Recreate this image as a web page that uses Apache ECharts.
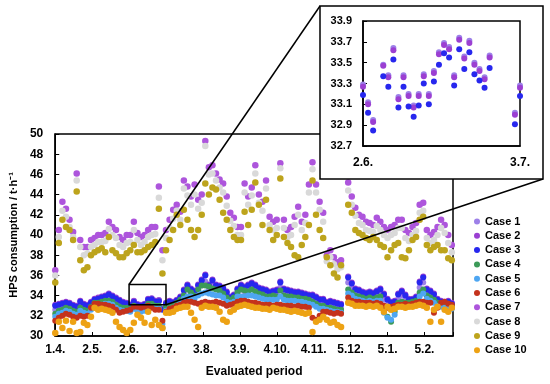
<!DOCTYPE html>
<html><head><meta charset="utf-8">
<script src="https://cdn.jsdelivr.net/npm/echarts@6/dist/echarts.min.js"></script>
<style>html,body{margin:0;padding:0;background:#fff}#c{width:550px;height:384px}</style>
</head><body><div id="c"></div>
<script>
// ---- data ----
const xLabels = ['1.4.','2.5.','2.6.','3.7.','3.8.','3.9.','4.10.','4.11.','5.12.','5.1.','5.2.'];
const days = [
0,3,6,9,12,15,18,21,24,27,
30,33,36,39,42,45,48,51,54,57,
60,63,66,69,72,75,78,81,84,87,
90,93,96,99,102,105,108,111,114,117,
120,123,126,129,132,135,138,141,144,147,
150,153,156,159,162,165,168,171,174,177,
180,183,186,189,192,195,198,201,204,207,
210,213,216,219,222,225,228,231,234,237,
240,243,246,249,252,255,258,261,264,267,
270,273,276,279,282,285,288,291,294,297,
300,303,306,309,312,315,318,321,324,327,
330,333];
const case1 = [
32.6,32.8,32.8,32.9,32.8,32.6,32.4,32.9,32.7,32.6,
33.0,33.3,33.4,33.4,33.5,33.7,33.5,33.3,33.1,32.9,
32.9,33.12,33.48,33.17,33.09,33.20,33.69,33.74,33.50,33.57,
32.7,33.28,33.1,33.0,33.2,33.4,34.1,34.6,34.2,34.0,
34.6,35.0,35.4,34.6,35.0,34.6,34.5,34.3,33.9,33.5,
33.6,34.2,34.6,34.4,34.5,34.7,34.5,34.3,34.2,34.1,
33.9,34.0,34.1,34.8,34.2,34.1,34.0,33.9,33.9,33.8,
33.7,33.6,33.5,33.4,33.2,33.2,32.9,33.0,32.9,32.8,
32.7,null,35.3,34.8,34.2,34.1,33.9,33.8,33.9,33.8,
34.0,34.1,33.6,33.1,32.9,33.0,33.7,34.0,33.6,33.2,
33.2,33.4,34.8,35.3,34.2,34.0,33.7,33.2,33.0,32.9,
33.0,32.8];
const case2 = [
33.1,33.2,33.3,33.4,33.3,33.1,33.0,33.5,33.2,33.1,
33.4,33.7,33.8,33.9,34.0,34.2,34.0,33.8,33.6,33.4,
33.3,33.10,33.47,33.15,33.07,33.18,33.67,33.72,33.48,33.55,
32.7,33.26,33.5,33.4,33.6,33.9,34.6,35.1,34.7,34.5,
35.1,35.6,36.1,35.1,35.6,35.1,35.0,34.8,34.4,33.9,
34.1,34.7,35.1,34.9,35.1,35.3,35.1,34.8,34.7,34.6,
34.4,34.5,34.6,35.4,34.7,34.6,34.5,34.4,34.4,34.3,
34.2,34.1,34.1,33.9,33.7,33.7,33.4,33.5,33.4,33.3,
33.2,null,35.9,35.3,34.7,34.6,34.4,34.3,34.4,34.3,
34.5,34.7,34.2,33.7,33.4,33.5,34.2,34.5,34.1,33.7,
33.7,33.9,35.4,35.9,34.7,34.5,34.2,33.7,33.5,33.4,
33.5,33.3];
const case3 = [
33.0,33.1,33.2,33.3,33.2,33.0,32.9,33.4,33.1,33.0,
33.3,33.6,33.7,33.8,33.9,34.1,33.9,33.7,33.5,33.3,
33.2,33.02,33.37,33.07,32.98,33.10,33.59,33.63,33.39,33.45,
32.6,33.18,33.4,33.3,33.5,33.8,34.5,35.0,34.6,34.4,
35.0,35.5,36.0,35.0,35.5,35.0,34.9,34.7,34.3,33.8,
34.0,34.6,35.0,34.8,35.0,35.2,35.0,34.7,34.6,34.5,
34.3,34.4,34.5,35.3,34.6,34.5,34.4,34.3,34.3,34.2,
34.1,34.0,34.0,33.8,33.6,33.6,33.3,33.4,33.3,33.2,
33.1,null,35.8,35.2,34.6,34.5,34.3,34.2,34.3,34.2,
34.4,34.6,34.1,33.6,33.3,33.4,34.1,34.4,34.0,33.6,
33.6,33.8,35.3,35.8,34.6,34.4,34.1,33.6,33.4,33.3,
33.4,33.2];
const case4 = [
32.2,32.5,32.6,32.8,32.7,32.5,32.4,32.8,32.6,32.5,
32.9,33.3,33.3,33.4,33.5,33.5,33.4,33.1,32.9,32.8,
32.8,32.7,33.0,32.8,32.7,32.8,33.2,33.2,33.0,33.0,
30.8,32.8,33.0,33.1,33.3,33.6,34.0,34.6,34.3,34.0,
34.6,35.0,35.0,34.9,34.7,34.6,34.5,34.2,33.8,33.6,
33.8,34.3,34.6,34.5,34.4,34.6,34.4,34.2,34.1,33.9,
33.9,34.0,33.9,34.5,34.0,33.9,33.9,33.8,33.8,33.7,
33.7,33.6,33.4,33.2,33.0,33.0,32.8,32.8,32.7,32.6,
32.6,null,34.6,34.3,34.0,33.9,33.8,33.7,33.8,33.7,
33.8,33.9,32.6,31.9,31.4,32.4,33.3,33.4,33.3,33.3,
33.4,33.5,34.3,34.6,34.0,33.8,33.6,33.3,33.2,33.1,
33.2,33.0];
const case5 = [
31.9,32.2,32.3,32.5,32.4,32.2,32.1,32.5,32.3,32.2,
32.6,33.0,33.0,33.1,33.2,33.2,33.1,32.8,32.6,32.5,
32.5,32.4,32.7,32.5,32.4,32.5,32.9,32.9,32.7,32.7,
31.2,32.5,32.7,32.8,33.0,33.3,33.7,33.9,33.9,33.7,
34.0,34.2,34.3,34.2,34.1,34.0,34.0,33.8,33.4,33.3,
33.4,33.9,33.9,33.9,34.0,34.0,33.9,33.8,33.7,33.6,
33.6,33.6,33.6,33.9,33.6,33.5,33.5,33.5,33.4,33.4,
33.3,33.2,33.1,32.9,32.7,32.7,32.6,32.5,32.4,32.4,
32.3,null,34.2,34.0,33.7,33.6,33.5,33.4,33.5,33.4,
33.5,33.5,32.3,31.8,31.6,32.1,33.0,33.1,33.0,33.0,
33.1,33.2,33.9,34.2,33.7,33.5,33.3,33.0,32.9,32.8,
32.9,32.7];
const case6 = [
31.5,31.8,32.0,32.2,32.1,31.9,31.8,32.0,31.9,32.0,
32.8,33.2,33.2,33.1,33.1,33.0,32.9,32.6,32.3,32.4,
32.5,32.6,32.9,32.9,32.8,32.9,33.0,32.8,32.6,32.6,
31.5,32.4,32.7,32.8,33.0,33.1,33.3,33.4,33.4,33.3,
33.2,33.3,33.4,33.3,33.3,33.4,33.3,33.2,33.0,33.1,
33.2,33.4,33.5,33.5,33.4,33.3,33.3,33.2,33.1,33.1,
33.1,33.0,33.1,33.1,33.0,33.0,33.0,32.9,33.0,32.9,
32.9,32.8,31.8,31.6,32.0,32.4,32.4,32.3,32.2,32.3,
32.2,null,33.8,33.5,33.4,33.4,33.3,33.3,33.3,33.2,
33.3,33.2,33.0,32.8,32.9,33.0,33.1,33.1,33.2,33.1,
33.2,33.3,33.4,33.4,33.3,33.3,32.3,32.8,33.3,33.4,
33.2,33.1];
const case7 = [
36.5,40.5,43.3,42.6,41.5,40.3,46.1,39.5,38.8,38.8,
39.5,39.7,40.0,40.0,40.2,41.3,40.8,40.5,39.8,39.5,
40.0,40.0,41.3,40.2,39.8,40.0,40.5,40.8,40.8,44.8,
38.5,40.5,41.5,42.5,43.0,42.3,45.4,44.8,43.8,45.0,
43.5,44.0,49.3,46.7,46.9,46.1,45.5,45.1,43.8,42.2,
41.7,40.8,40.8,45.1,43.8,44.7,46.9,44.0,43.3,45.4,
41.8,41.3,41.5,47.1,41.5,40.5,40.8,41.8,42.8,41.3,
42.0,45.0,47.2,45.0,43.3,42.2,38.0,38.5,37.8,37.3,
37.5,null,45.2,43.8,42.7,42.0,41.8,41.3,41.2,41.0,
41.7,41.3,40.8,40.5,40.8,41.0,41.5,41.5,40.5,40.2,
40.8,41.2,43.0,43.2,40.5,40.0,40.3,40.8,41.5,41.0,
40.0,39.0];
const case8 = [
36.0,39.8,42.4,41.8,40.8,39.8,45.4,38.8,38.0,38.2,
38.8,39.0,39.3,39.3,39.4,40.6,40.0,39.7,39.0,38.8,
39.2,39.3,40.5,39.5,39.0,39.3,39.8,40.0,40.1,43.7,
37.5,39.7,40.7,41.6,42.4,41.5,44.6,43.9,43.0,44.0,
42.6,43.2,48.8,46.0,46.1,45.4,44.7,44.2,42.9,41.4,
40.9,40.0,40.0,44.2,43.0,43.9,46.1,43.2,42.4,44.6,
41.0,40.5,40.7,46.6,40.7,39.8,40.0,41.0,42.0,40.5,
41.2,44.2,46.5,44.2,42.5,41.3,37.4,37.8,37.1,36.6,
36.8,null,44.4,43.0,41.9,41.2,41.0,40.5,40.4,40.3,
40.9,40.5,40.0,39.7,40.0,40.2,40.7,40.7,39.7,39.4,
40.0,40.4,42.2,42.4,39.7,39.2,39.5,40.0,40.7,40.2,
39.2,38.3];
const case9 = [
35.3,39.2,41.5,40.8,40.5,39.5,44.3,37.5,36.5,36.8,
38.0,38.3,38.5,38.7,38.3,39.8,38.5,38.2,37.8,37.8,
38.2,38.5,39.0,38.3,38.3,38.5,38.8,39.0,39.3,42.6,
36.2,38.5,39.5,40.5,42.0,41.0,42.5,41.5,40.5,39.8,
40.5,42.0,45.1,44.0,44.7,44.5,43.5,42.2,41.5,40.5,
39.8,39.5,39.5,42.3,41.0,42.5,45.2,43.0,41.0,43.5,
40.5,39.5,40.0,45.6,39.8,39.2,38.8,38.0,37.8,39.0,
39.8,41.0,45.4,42.0,40.5,39.7,37.8,37.0,36.2,35.8,
37.0,null,43.0,42.2,40.5,40.2,40.0,39.7,39.5,39.8,
39.5,39.0,38.8,37.8,38.5,39.0,39.2,37.8,37.7,38.5,
39.5,39.8,41.5,41.8,39.0,38.5,38.8,39.0,38.5,38.5,
37.7,37.5];
const case10 = [
30.3,31.4,30.8,31.5,30.5,31.4,30.3,30.4,31.3,31.1,
31.9,32.8,32.6,32.7,32.6,32.5,32.3,31.4,30.9,30.6,
30.3,30.6,31.3,32.1,31.8,31.3,32.4,31.1,31.6,31.1,
30.8,32.3,32.3,32.4,32.7,32.8,32.9,32.9,32.3,31.6,
30.9,32.8,33.0,32.9,32.9,32.8,32.4,31.6,31.4,32.4,
32.6,32.9,33.0,33.1,33.0,32.9,32.8,32.8,32.7,32.7,
32.6,32.8,32.7,32.6,32.6,32.5,32.4,32.5,32.4,32.3,
32.2,32.3,30.4,31.4,31.6,31.9,31.6,31.3,31.4,31.1,
30.9,null,33.3,33.2,33.0,33.0,33.0,32.9,33.0,32.9,
33.0,32.8,32.4,32.9,32.6,32.7,32.9,32.9,32.8,32.9,
32.9,33.0,33.1,33.0,32.8,31.4,32.6,32.9,31.4,32.6,
32.4,32.8];
// zoomed window (2.6. - 3.7.), daily values
const insetDays  = [62,63,64,66,67,68,69,70,71,72,73,74,75,76,77,78,79,80,81,82,83,84,85,86,87,92,93];
const insetCase1 = [33.29,33.12,32.95,33.48,33.38,33.64,33.17,33.38,33.20,33.09,33.20,33.39,33.20,33.42,33.60,33.69,33.65,33.38,33.74,33.56,33.71,33.50,33.44,33.36,33.57,33.02,33.28];
const insetCase2 = [33.27,33.10,32.93,33.47,33.36,33.62,33.15,33.36,33.18,33.07,33.18,33.37,33.18,33.40,33.58,33.67,33.63,33.36,33.72,33.54,33.69,33.48,33.42,33.34,33.55,33.00,33.26];
const insetCase3 = [33.19,33.02,32.85,33.37,33.27,33.53,33.07,33.27,33.08,32.98,33.09,33.30,33.10,33.32,33.48,33.59,33.55,33.28,33.63,33.44,33.60,33.39,33.33,33.26,33.45,32.91,33.18];
const yTicksMain = {min: 30, max: 50, step: 2};
const yTicksInset = {min: 32.7, max: 33.9, step: 0.2};
const zoomWindow = {x0: 62, x1: 93, y0: 33.1, y1: 35.1};

const seriesNames = ['Case 1','Case 2','Case 3','Case 4','Case 5','Case 6','Case 7','Case 8','Case 9','Case 10'];
const seriesData = [case1,case2,case3,case4,case5,case6,case7,case8,case9,case10];
const colors = ['#9d80e8','#9b3fd2','#2727ee','#3c9a58','#4ea6f2','#c4321c','#ad55dc','#d9d9d9','#bda41c','#eda214'];

// ---- chart ----
const F = '"Liberation Sans", Arial, sans-serif';
const chart = echarts.init(document.getElementById('c'));
const txt = {fontFamily: F, fontWeight: 'bold', fontSize: 11, color: '#000'};
const txt12 = Object.assign({}, txt, {fontSize: 12});
const xFmt = v => { const k = v / 31; return Number.isInteger(k) && xLabels[k] ? xLabels[k] : ''; };
const pts = (xs, ys) => xs.map((x, i) => [x, ys[i]]).filter(p => p[1] != null);

const series = seriesData.map((arr, i) => ({
  name: seriesNames[i], type: 'scatter', xAxisIndex: 0, yAxisIndex: 0,
  data: pts(days, arr), symbolSize: i >= 6 ? 6.5 : 6, itemStyle: {color: colors[i], opacity: 1}, z: 2
}));
[[insetCase1, 0], [insetCase2, 1], [insetCase3, 2]].forEach(([arr, ci]) => {
  series.push({
    name: seriesNames[ci] + ' zoom', type: 'scatter', xAxisIndex: 1, yAxisIndex: 1,
    data: pts(insetDays, arr), symbolSize: 6, itemStyle: {color: colors[ci], opacity: 1}, z: 25, clip: true
  });
});

const option = {
  animation: false,
  backgroundColor: '#fff',
  grid: [
    {left: 52, top: 134, width: 401, height: 202, show: true, borderColor: '#000', borderWidth: 1.5, backgroundColor: 'transparent'},
    {left: 363, top: 21, width: 157, height: 125, show: true, borderColor: '#000', borderWidth: 1.5, backgroundColor: '#fff', z: 20}
  ],
  xAxis: [
    {type: 'value', gridIndex: 0, min: 0, max: 334, interval: 31, splitLine: {show: false},
     axisLine: {lineStyle: {color: '#000', width: 1.5}}, axisTick: {inside: true, length: 4, lineStyle: {color: '#000'}},
     axisLabel: Object.assign({margin: 8, formatter: xFmt}, txt12),
     name: 'Evaluated period', nameLocation: 'middle', nameGap: 30, nameTextStyle: txt12},
    {type: 'value', gridIndex: 1, min: 62, max: 93, interval: 31, splitLine: {show: false}, z: 21,
     axisLine: {lineStyle: {color: '#000', width: 1.5}}, axisTick: {show: false},
     axisLabel: Object.assign({margin: 11, formatter: xFmt}, txt12)}
  ],
  yAxis: [
    {type: 'value', gridIndex: 0, min: yTicksMain.min, max: yTicksMain.max, interval: yTicksMain.step, splitLine: {show: false},
     axisLine: {show: true, lineStyle: {color: '#000', width: 1.5}}, axisTick: {show: true, inside: true, length: 4, lineStyle: {color: '#000'}},
     axisLabel: Object.assign({margin: 12}, txt12),
     name: 'HPS consumption / t·h⁻¹', nameLocation: 'middle', nameGap: 29, nameTextStyle: txt},
    {type: 'value', gridIndex: 1, min: yTicksInset.min, max: yTicksInset.max, interval: yTicksInset.step, splitLine: {show: false}, z: 21,
     axisLine: {show: true, lineStyle: {color: '#000', width: 1.5}}, axisTick: {show: true, inside: true, length: 4, lineStyle: {color: '#000'}},
     axisLabel: Object.assign({margin: 11, formatter: v => v.toFixed(1)}, txt)}
  ],
  legend: {
    orient: 'vertical', left: 469, top: 211, itemWidth: 6, itemHeight: 6, itemGap: 3.3, icon: 'circle',
    data: seriesNames, textStyle: Object.assign({lineHeight: 11}, txt), selectedMode: false
  },
  series: series
};
chart.setOption(option);

const tl = chart.convertToPixel({gridIndex: 0}, [zoomWindow.x0, zoomWindow.y1]);
const br = chart.convertToPixel({gridIndex: 0}, [zoomWindow.x1, zoomWindow.y0]);
const box = {x: 320, y: 6, w: 223, h: 173};
const ls = {stroke: '#000', lineWidth: 1.5, fill: null};
chart.setOption({graphic: [
  {type: 'rect', z: 10, shape: {x: box.x, y: box.y, width: box.w, height: box.h}, style: {fill: '#fff', stroke: '#000', lineWidth: 1.5}},
  {type: 'rect', z: 6, shape: {x: tl[0], y: tl[1], width: br[0] - tl[0], height: br[1] - tl[1]}, style: {fill: 'none', stroke: '#000', lineWidth: 1.5}},
  {type: 'line', z: 6, shape: {x1: tl[0], y1: tl[1], x2: box.x, y2: box.y}, style: ls},
  {type: 'line', z: 6, shape: {x1: br[0], y1: br[1], x2: box.x + box.w, y2: box.y + box.h}, style: ls}
]});
</script></body></html>
